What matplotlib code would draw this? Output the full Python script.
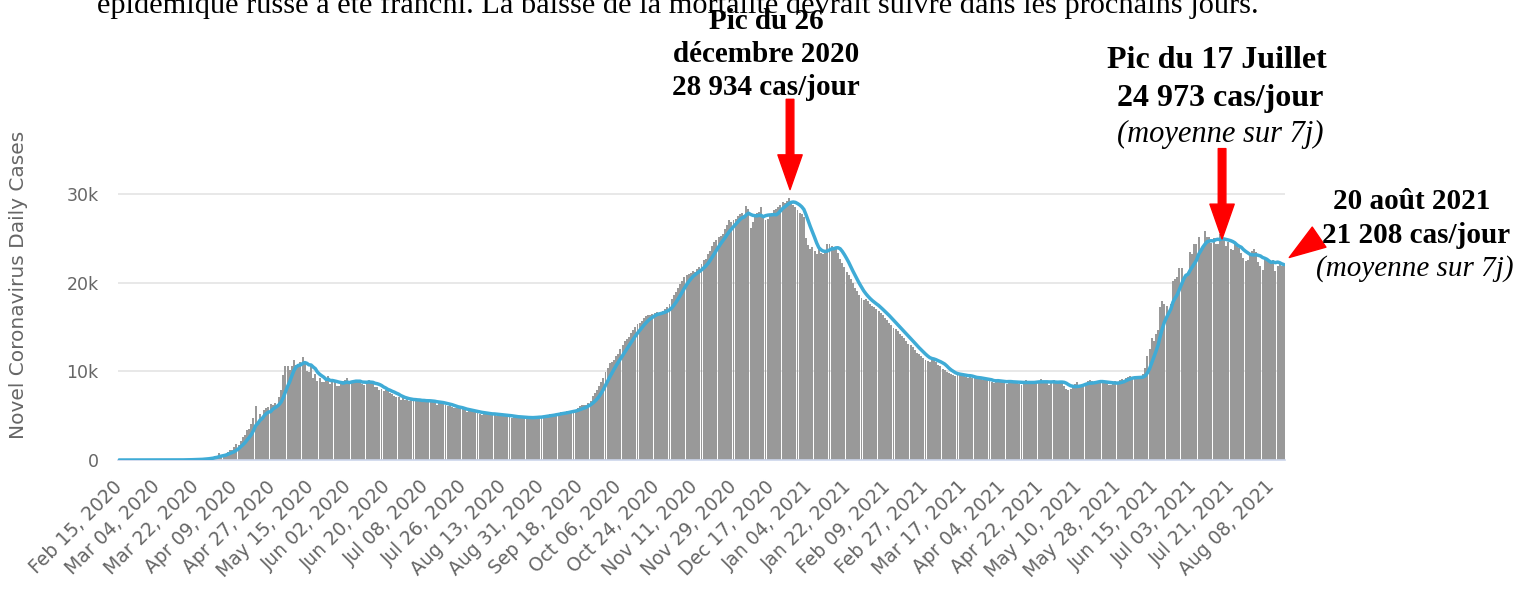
import matplotlib
matplotlib.use('Agg')
import matplotlib.pyplot as plt
import numpy as np
import pandas as pd

W, H = 1518, 590

# daily new cases, Russia, one row per week starting Sat Feb 15, 2020
start_date = '2020-02-15'
daily_cases = [
    0, 0, 0, 0, 0, 0, 0,
    0, 0, 0, 0, 0, 0, 0,
    0, 1, 0, 0, 0, 1, 6,
    4, 0, 3, 3, 0, 6, 14,
    11, 18, 30, 20, 33, 52, 54,
    53, 61, 71, 57, 163, 182, 196,
    228, 270, 302, 501, 440, 771, 601,
    582, 658, 954, 1154, 1175, 1459, 1786,
    1667, 2186, 2558, 2774, 3388, 3448, 4070,
    4785, 6060, 4268, 5236, 4774, 5642, 5849,
    5966, 6361, 6198, 6411, 5841, 7099, 7933,
    9623, 10633, 10581, 10102, 10559, 11231, 10699,
    10817, 11012, 11656, 10899, 10028, 9974, 10598,
    9200, 9709, 8926, 9263, 8764, 8849, 8894,
    9434, 8599, 8946, 8915, 8338, 8371, 8572,
    8952, 9035, 9268, 8536, 8831, 8726, 8855,
    8984, 8985, 8595, 8404, 8779, 8987, 8706,
    8835, 8248, 8246, 7843, 7972, 7790, 7889,
    7728, 7600, 7425, 7176, 7113, 7075, 6800,
    7000, 6800, 6900, 6700, 6800, 6750, 6700,
    6800, 6700, 6600, 6650, 6600, 6700, 6650,
    6611, 6537, 6248, 6422, 6428, 6406, 6234,
    6109, 6170, 5940, 5842, 5862, 5811, 5871,
    5765, 5635, 5395, 5475, 5509, 5482, 5462,
    5427, 5159, 5118, 5204, 5267, 5241, 5212,
    5189, 5118, 4945, 5102, 5065, 5057, 5061,
    4969, 4919, 4748, 4828, 4785, 4870, 4921,
    4852, 4744, 4676, 4696, 4711, 4829, 4980,
    4993, 4897, 4729, 4952, 4995, 5110, 5205,
    5195, 5185, 5099, 5218, 5363, 5405, 5449,
    5509, 5572, 5529, 5488, 5670, 5905, 6065,
    6148, 6196, 6215, 6431, 6595, 7212, 7523,
    7900, 8300, 8800, 9300, 9900, 10400, 10900,
    11000, 11300, 11700, 12000, 12500, 13000, 13400,
    13600, 13900, 14300, 14600, 15000, 15300, 15500,
    15700, 16000, 16200, 16300, 16400, 16500, 16600,
    16700, 16500, 16600, 16800, 17000, 17300, 17600,
    18100, 18600, 18900, 19400, 19800, 20200, 20600,
    20800, 21000, 21100, 21300, 21200, 21500, 21800,
    22100, 22500, 22700, 23200, 23600, 24100, 24600,
    24800, 25100, 25300, 25500, 26000, 26500, 27000,
    26800, 27000, 27200, 27500, 27700, 27900, 27600,
    28600, 28300, 26200, 26800, 27400, 27800, 28000,
    28500, 27300, 27000, 27200, 27600, 27900, 28200,
    28300, 28500, 28800, 29100, 29000, 29200, 29500,
    29200, 28800, 28500, 28200, 27900, 27700, 27400,
    25000, 24200, 23800, 24000, 23600, 23200, 23800,
    23300, 23200, 23500, 24300, 24400, 24100, 23900,
    24000, 23300, 22700, 22200, 21800, 21200, 20800,
    20400, 19900, 19400, 19000, 18600, 18300, 18000,
    18100, 17900, 17600, 17400, 17200, 17000, 16800,
    16600, 16300, 16000, 15800, 15500, 15200, 14900,
    14800, 14500, 14200, 14000, 13700, 13400, 13100,
    13000, 12700, 12400, 12100, 11900, 11700, 11500,
    11300, 11200, 11100, 11400, 11500, 11100, 10700,
    10600, 10300, 10100, 9900, 9800, 9700, 9600,
    9500, 9600, 9700, 9600, 9500, 9400, 9300,
    9400, 9300, 9200, 9100, 9300, 9200, 9000,
    9100, 9000, 8900, 8800, 8700, 9000, 9100,
    8900, 8800, 8700, 8600, 8800, 9000, 8900,
    8800, 8700, 8600, 8500, 8700, 9000, 8900,
    8800, 8700, 8600, 8700, 8900, 9100, 8900,
    8800, 8700, 8500, 8700, 9000, 8900, 8800,
    8900, 8700, 8300, 8000, 7900, 8000, 8400,
    8600, 8800, 8500, 8300, 8400, 8700, 8900,
    9000, 8900, 8700, 8600, 8800, 9000, 8900,
    8800, 8700, 8500, 8400, 8600, 8900, 8800,
    9000, 9100, 9000, 9200, 9400, 9500, 9400,
    9300, 9200, 9100, 9300, 9700, 10400, 11700,
    12500, 13700, 13400, 14200, 14700, 17300, 17900,
    17600, 17400, 16700, 17600, 20200, 20400, 20600,
    21700, 21700, 20500, 20600, 21000, 23500, 23200,
    24400, 24400, 25100, 23400, 24000, 25800, 25100,
    25100, 24500, 25000, 24300, 24400, 25500, 25700,
    25000, 24100, 24600, 23800, 23700, 24500, 24100,
    23900, 23300, 22800, 22400, 22600, 23300, 23600,
    23800, 23500, 22300, 21900, 21400, 22700, 22800,
    22500, 22400, 22600, 21300, 21900, 22200, 21900,
    21900,
]

y_ticks = [0, 10000, 20000, 30000]
y_tick_labels = ['0', '10k', '20k', '30k']
tick_step = 18

top_line = ("épidémique russe a été franchi. La baisse de la mortalité "
            "devrait suivre dans les prochains jours.")
peak1_lines = ['Pic du 26', 'décembre 2020', '28 934 cas/jour']
peak2_lines = ['Pic du 17 Juillet', '24 973 cas/jour', '(moyenne sur 7j)']
last_lines = ['20 août 2021', '21 208 cas/jour', '(moyenne sur 7j)']

cases = np.array(daily_cases, dtype=float)
n = len(cases)
dates = pd.date_range(start_date, periods=n, freq='D')
avg7 = pd.Series(cases).rolling(7, min_periods=1).mean().values
x = np.arange(n)

fig = plt.figure(figsize=(W / 100, H / 100), dpi=100)
ax = fig.add_axes([118 / W, 130 / H, 1167 / W, 301.6 / H])

ax.bar(x, cases, width=0.92, color='#999999', linewidth=0, zorder=2)
ax.plot(x, avg7, color='#3fabd6', lw=2.5, zorder=3, solid_capstyle='round')

ax.set_xlim(-0.5, n - 0.5)
ax.set_ylim(0, 34000)
ax.set_yticks(y_ticks)
ax.set_yticklabels(y_tick_labels)
ticks = x[::tick_step]
ax.set_xticks(ticks)
ax.set_xticklabels([d.strftime('%b %d, %Y') for d in dates[ticks]],
                   rotation=45, ha='right', va='center', rotation_mode='anchor')
ax.tick_params(axis='both', length=0, colors='#666666')
ax.tick_params(axis='x', pad=17, labelsize=13.5)
ax.tick_params(axis='y', pad=14, labelsize=12.5)
ax.yaxis.grid(True, color='#e6e6e6', lw=1.3)
ax.set_axisbelow(True)
for s in ['top', 'right', 'left']:
    ax.spines[s].set_visible(False)
ax.spines['bottom'].set_color('#ccd6eb')
ax.spines['bottom'].set_linewidth(1.2)

ax.set_ylabel('Novel Coronavirus Daily Cases', color='#666666', fontsize=14.5)
ax.yaxis.set_label_coords(-0.077, 0.58)

serif = 'Liberation Serif'


def ftext(px, py, s, size, **kw):
    fig.text(px / W, 1 - py / H, s, ha='center', va='baseline',
             family=serif, fontsize=size, **kw)


fig.text(97 / W, 1 - 13 / H, top_line, ha='left', va='baseline',
         family=serif, fontsize=21.9)

for (py, s) in zip([29, 62, 95], peak1_lines):
    ftext(766, py, s, 21, weight='bold')
ftext(1217, 68, peak2_lines[0], 23, weight='bold')
ftext(1220, 106, peak2_lines[1], 23, weight='bold')
ftext(1220, 142, peak2_lines[2], 22, style='italic')
ftext(1412, 209, last_lines[0], 21, weight='bold')
ftext(1416, 243, last_lines[1], 21, weight='bold')
ftext(1415, 276, last_lines[2], 21, style='italic')

# red arrows
arrow = 'simple,head_length=2.5,head_width=1.75,tail_width=0.55'
p1 = int(np.argmax(avg7[:400]))
ax.annotate('', xy=(p1 - 1.5, avg7[p1] + 1400), xytext=(0, 65), textcoords='offset points',
            arrowprops=dict(arrowstyle=arrow, mutation_scale=10, color='red',
                            shrinkA=0, shrinkB=0))
p2 = 450 + int(np.argmax(avg7[450:]))
ax.annotate('', xy=(p2, avg7[p2]), xytext=(0, 65), textcoords='offset points',
            arrowprops=dict(arrowstyle=arrow, mutation_scale=10, color='red',
                            shrinkA=0, shrinkB=0))
ax.annotate('', xy=(n + 1.5, avg7[-1] + 800), xytext=(20.5, 14), textcoords='offset points',
            annotation_clip=False,
            arrowprops=dict(arrowstyle='simple,head_length=2.6,head_width=1.75,tail_width=0.1',
                            mutation_scale=10, color='red', shrinkA=0, shrinkB=0))

fig.savefig('out.png', dpi=100)
